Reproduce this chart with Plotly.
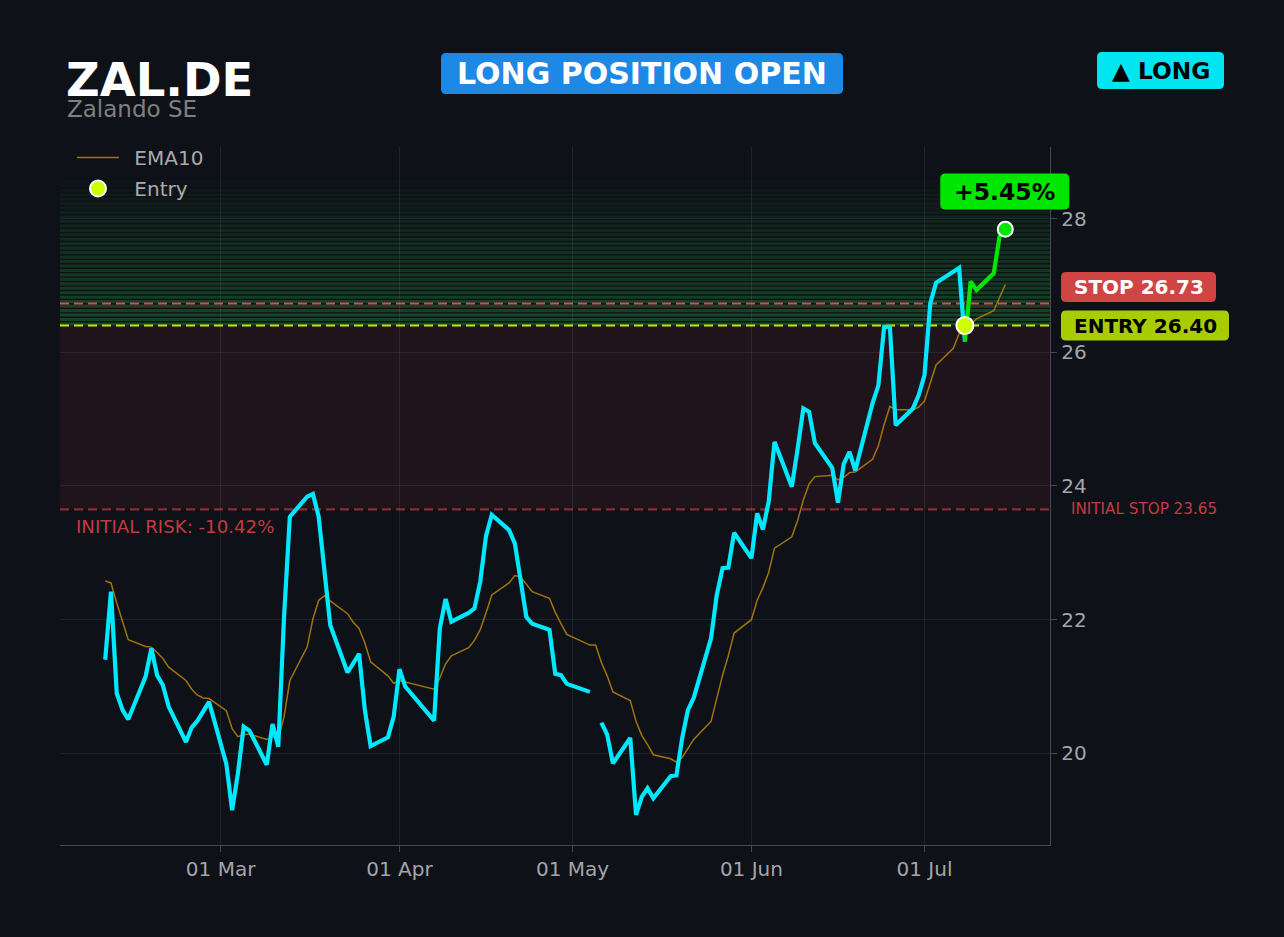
import pandas as pd
import plotly.graph_objects as go

# ---------------- data ----------------
dates = [
    "2026-02-09", "2026-02-10", "2026-02-11", "2026-02-12", "2026-02-13",
    "2026-02-16", "2026-02-17", "2026-02-18", "2026-02-19", "2026-02-20",
    "2026-02-23", "2026-02-24", "2026-02-25", "2026-02-26", "2026-02-27",
    "2026-03-02", "2026-03-03", "2026-03-04", "2026-03-05", "2026-03-06",
    "2026-03-09", "2026-03-10", "2026-03-11", "2026-03-12", "2026-03-13",
    "2026-03-16", "2026-03-17", "2026-03-18", "2026-03-19", "2026-03-20",
    "2026-03-23", "2026-03-24", "2026-03-25", "2026-03-26", "2026-03-27",
    "2026-03-30", "2026-03-31", "2026-04-01", "2026-04-02",
    "2026-04-07", "2026-04-08", "2026-04-09", "2026-04-10",
    "2026-04-13", "2026-04-14", "2026-04-15", "2026-04-16", "2026-04-17",
    "2026-04-20", "2026-04-21", "2026-04-22", "2026-04-23", "2026-04-24",
    "2026-04-27", "2026-04-28", "2026-04-29", "2026-04-30",
    "2026-05-04", "2026-05-05", "2026-05-06", "2026-05-07", "2026-05-08",
    "2026-05-11", "2026-05-12", "2026-05-13", "2026-05-14", "2026-05-15",
    "2026-05-18", "2026-05-19", "2026-05-20", "2026-05-21", "2026-05-22",
    "2026-05-25", "2026-05-26", "2026-05-27", "2026-05-28", "2026-05-29",
    "2026-06-01", "2026-06-02", "2026-06-03", "2026-06-04", "2026-06-05",
    "2026-06-08", "2026-06-09", "2026-06-10", "2026-06-11", "2026-06-12",
    "2026-06-15", "2026-06-16", "2026-06-17", "2026-06-18", "2026-06-19",
    "2026-06-22", "2026-06-23", "2026-06-24", "2026-06-25", "2026-06-26",
    "2026-06-29", "2026-06-30", "2026-07-01", "2026-07-02", "2026-07-03",
    "2026-07-06", "2026-07-07", "2026-07-08", "2026-07-09", "2026-07-10",
    "2026-07-13", "2026-07-14", "2026-07-15",
]

close = [
    21.40, 22.42, 20.90, 20.65, 20.51,
    21.15, 21.57, 21.17, 21.02, 20.70,
    20.17, 20.39, 20.49, 20.63, 20.77,
    19.84, 19.15, 19.70, 20.40, 20.34,
    19.83, 20.44, 20.10, 22.05, 23.54,
    23.84, 23.88, 23.54, 22.70, 21.92,
    21.21, 21.35, 21.49, 20.65, 20.11,
    20.24, 20.55, 21.26, 21.00,
    20.49, 21.87, 22.31, 21.97,
    22.10, 22.17, 22.57, 23.25, 23.57,
    23.34, 23.14, 22.55, 22.04, 21.94,
    21.85, 21.19, 21.17, 21.04,
    20.92, None, 20.46, 20.28, 19.85,
    20.23, 19.08, 19.35, 19.48, 19.33,
    19.66, 19.67, 20.23, 20.65, 20.83,
    21.72, 22.37, 22.77, 22.78, 23.30,
    22.92, 23.59, 23.35, 23.77, 24.66,
    23.99, 24.55, 25.16, 25.11, 24.64,
    24.27, 23.75, 24.33, 24.51, 24.23,
    25.24, 25.50, 26.38, 26.38, 24.91,
    25.16, 25.36, 25.66, 26.73, 27.04,
    27.20, 27.26, 26.16, 27.06, 26.93,
    27.18, 27.73, 27.84,
]

ema10 = [
    22.58, 22.55, 22.25, 21.96, 21.70,
    21.60, 21.59, 21.51, 21.42, 21.29,
    21.09, 20.96, 20.87, 20.83, 20.82,
    20.64, 20.37, 20.25, 20.28, 20.29,
    20.21, 20.25, 20.22, 20.55, 21.09,
    21.59, 22.01, 22.29, 22.36, 22.28,
    22.09, 21.96, 21.87, 21.65, 21.37,
    21.16, 21.05, 21.09, 21.07,
    20.96, 21.13, 21.34, 21.46,
    21.58, 21.69, 21.85, 22.10, 22.37,
    22.55, 22.66, 22.64, 22.53, 22.42,
    22.32, 22.11, 21.94, 21.78,
    21.62, 21.62, 21.36, 21.16, 20.92,
    20.79, 20.48, 20.27, 20.13, 19.98,
    19.92, 19.87, 19.94, 20.07, 20.21,
    20.48, 20.82, 21.17, 21.46, 21.80,
    22.00, 22.29, 22.48, 22.71, 23.07,
    23.24, 23.48, 23.79, 24.03, 24.14,
    24.16, 24.09, 24.13, 24.20, 24.21,
    24.40, 24.60, 24.92, 25.19, 25.14,
    25.14, 25.18, 25.27, 25.54, 25.81,
    26.06, 26.28, 26.26, 26.41, 26.50,
    26.62, 26.82, 27.01,
]

ticker = "ZAL.DE"
company = "Zalando SE"
entry_date = "2026-07-08"
entry_price = 26.40
stop_price = 26.73
initial_stop = 23.65
zone_top = 28.60

y_range = [18.63, 29.07]
x_range = ["2026-02-01 04:00", "2026-07-22 18:00"]
y_ticks = [20, 22, 24, 26, 28]

# ---------------- styling ----------------
BG = "#0e1117"
FONT = "DejaVu Sans"
CYAN = "#00e8ff"
GREEN = "#00e600"
EMA_COL = "#b8860b"
ENTRY_COL = "#ccff00"
GRID = "rgba(255,255,255,0.075)"
AXIS = "#474a52"
TICK_TXT = "#a3a5aa"

W, H = 1284, 937
ML, MR, MT, MB = 60, 234, 147, 92
PW, PH = W - ML - MR, H - MT - MB

x0_ts, x1_ts = pd.Timestamp(x_range[0]), pd.Timestamp(x_range[1])


def xp(px):
    return (px - ML) / PW


def yp(py):
    return (H - MB - py) / PH


def xfrac(d):
    return (pd.Timestamp(d) - x0_ts) / (x1_ts - x0_ts)


def yfrac(v):
    return (v - y_range[0]) / (y_range[1] - y_range[0])


def rounded_box(ax, ay, cx, cy, w, h, r, color):
    x0, x1 = cx - w / 2, cx + w / 2
    y0, y1 = cy - h / 2, cy + h / 2
    path = (f"M{x0 + r},{y0} L{x1 - r},{y0} Q{x1},{y0} {x1},{y0 + r} "
            f"L{x1},{y1 - r} Q{x1},{y1} {x1 - r},{y1} L{x0 + r},{y1} "
            f"Q{x0},{y1} {x0},{y1 - r} L{x0},{y0 + r} Q{x0},{y0} {x0 + r},{y0} Z")
    return dict(type="path", xref="paper", yref="paper",
                xsizemode="pixel", ysizemode="pixel",
                xanchor=ax, yanchor=ay, path=path,
                fillcolor=color, line=dict(width=0), layer="above")


entry_idx = dates.index(entry_date)
pre_dates, pre_close = dates[:entry_idx + 1], close[:entry_idx + 1]
post_dates, post_close = dates[entry_idx:], close[entry_idx:]
last_date, last_close = dates[-1], close[-1]
pnl = (last_close / entry_price - 1) * 100
risk = (initial_stop / entry_price - 1) * 100

LEG_PAD = "\u00a0\u2009"

fig = go.Figure()

fig.add_trace(go.Scatter(x=dates, y=ema10, mode="lines", name=LEG_PAD + "EMA10",
                         line=dict(color=EMA_COL, width=1.5), opacity=0.85,
                         legendgroup="ema", hoverinfo="skip"))
fig.add_trace(go.Scatter(x=pre_dates, y=pre_close, mode="lines", name="Price",
                         line=dict(color=CYAN, width=4.2), showlegend=False,
                         connectgaps=False))
fig.add_trace(go.Scatter(x=post_dates, y=post_close, mode="lines", name="Open trade",
                         line=dict(color=GREEN, width=4.2), showlegend=False))
fig.add_trace(go.Scatter(x=[entry_date], y=[entry_price], mode="markers",
                         name=LEG_PAD + "Entry", legendgroup="entry",
                         marker=dict(color=ENTRY_COL, size=17,
                                     line=dict(color="white", width=2))))
fig.add_trace(go.Scatter(x=[last_date], y=[last_close], mode="markers", name="Last",
                         marker=dict(color=GREEN, size=15,
                                     line=dict(color="white", width=2)),
                         showlegend=False))

shapes = []
# risk zone
shapes.append(dict(type="rect", xref="paper", yref="y", x0=0, x1=1,
                   y0=initial_stop, y1=entry_price,
                   fillcolor="rgba(255,70,80,0.075)", line=dict(width=0),
                   layer="below"))
# profit zone gradient bands
n_bands = 33
step = (zone_top - entry_price) / n_bands
for i in range(n_bands):
    t = i / n_bands
    a = 0.30 * (1 - t) ** 1.0 + 0.015
    shapes.append(dict(type="rect", xref="paper", yref="y", x0=0, x1=1,
                       y0=entry_price + i * step,
                       y1=entry_price + i * step + step * 0.7,
                       fillcolor=f"rgba(40,190,80,{a:.3f})",
                       line=dict(width=0), layer="below"))
# horizontal level lines
for lvl, col in [(initial_stop, "#8a2e36"), (stop_price, "#e04a4a"),
                 (entry_price, "#c8e400")]:
    shapes.append(dict(type="line", xref="paper", yref="y", x0=0, x1=1,
                       y0=lvl, y1=lvl, line=dict(color=col, width=2.1, dash="9px,5px"),
                       layer="between"))

# label boxes
shapes.append(rounded_box(xp(642), yp(73.5), 0, 0, 402, 41, 5, "#1e88e5"))
shapes.append(rounded_box(xp(1160.5), yp(70.5), 0, 0, 127, 37, 5, "#00e5ef"))
shapes.append(rounded_box(xfrac(last_date), yfrac(last_close), -0.5, 37.7, 129, 36, 5, GREEN))
shapes.append(rounded_box(1.0, yfrac(stop_price), 88.5, 16.5, 155, 30, 5, "#d04444"))
shapes.append(rounded_box(1.0, yfrac(entry_price), 95, 0, 168, 30, 5, "#a8cc00"))

annotations = [
    dict(text=f"<b>{ticker}</b>", xref="paper", yref="paper", x=xp(63.5), y=yp(80),
         xanchor="left", yanchor="middle", showarrow=False,
         font=dict(size=46.5, color="white", family=FONT)),
    dict(text=company, xref="paper", yref="paper", x=xp(64.5), y=yp(108.5),
         xanchor="left", yanchor="middle", showarrow=False,
         font=dict(size=23, color="#808080", family=FONT)),
    dict(text="<b>LONG POSITION OPEN</b>", xref="paper", yref="paper", x=xp(642), y=yp(73.5),
         xanchor="center", yanchor="middle", showarrow=False,
         font=dict(size=30, color="white", family=FONT)),
    dict(text="<b>▲ LONG</b>", xref="paper", yref="paper", x=xp(1160.5), y=yp(70.5),
         xanchor="center", yanchor="middle", showarrow=False,
         font=dict(size=23.3, color="black", family=FONT)),
    dict(text=f"<b>{pnl:+.2f}%</b>", xref="paper", yref="paper",
         x=xfrac(last_date), y=yfrac(last_close), xshift=-0.5, yshift=37.7,
         xanchor="center", yanchor="middle", showarrow=False,
         font=dict(size=23.5, color="black", family=FONT)),
    dict(text=f"<b>STOP {stop_price:.2f}</b>", xref="paper", yref="paper",
         x=1.0, y=yfrac(stop_price), xshift=88.5, yshift=16.5,
         xanchor="center", yanchor="middle", showarrow=False,
         font=dict(size=20, color="white", family=FONT)),
    dict(text=f"<b>ENTRY {entry_price:.2f}</b>", xref="paper", yref="paper",
         x=1.0, y=yfrac(entry_price), xshift=95,
         xanchor="center", yanchor="middle", showarrow=False,
         font=dict(size=20, color="black", family=FONT)),
    dict(text=f"INITIAL STOP {initial_stop:.2f}", xref="paper", yref="paper",
         x=xp(1069), y=yfrac(initial_stop),
         xanchor="left", yanchor="middle", showarrow=False,
         font=dict(size=15.2, color="#c23b41", family=FONT)),
    dict(text=f"INITIAL RISK: {risk:.2f}%", xref="paper", yref="paper",
         x=xp(73.5), y=yfrac(initial_stop), yshift=-17,
         xanchor="left", yanchor="middle", showarrow=False,
         font=dict(size=18.2, color="#c23b41", family=FONT)),
]

fig.update_layout(
    width=W, height=H,
    margin=dict(l=ML, r=MR, t=MT, b=MB),
    paper_bgcolor=BG, plot_bgcolor=BG,
    font=dict(family=FONT, color=TICK_TXT, size=20),
    shapes=shapes, annotations=annotations,
    showlegend=True,
    legend=dict(x=xp(72), y=yp(138), xanchor="left", yanchor="top",
                itemwidth=42, tracegroupgap=2,
                bgcolor="rgba(0,0,0,0)", font=dict(size=20, color="#aaaaaa", family=FONT)),
    xaxis=dict(type="date", range=x_range, dtick="M1", tick0="2026-01-01",
               tickformat="%d %b", showgrid=True, gridcolor=GRID, gridwidth=1,
               showline=True, linecolor=AXIS, linewidth=1.4,
               ticks="outside", ticklen=6, tickcolor=AXIS, tickwidth=1.4,
               tickfont=dict(size=20, color=TICK_TXT), zeroline=False),
    yaxis=dict(range=y_range, side="right", tickvals=y_ticks,
               showgrid=True, gridcolor=GRID, gridwidth=1,
               showline=True, linecolor=AXIS, linewidth=1.4,
               ticks="outside", ticklen=6, tickcolor=AXIS, tickwidth=1.4,
               tickfont=dict(size=20, color=TICK_TXT), zeroline=False),
)

fig.write_html(
    "out.html",
    config={"displayModeBar": False},
    post_script="document.body.style.margin='0px';"
                "document.body.style.background='#0e1117';",
)
